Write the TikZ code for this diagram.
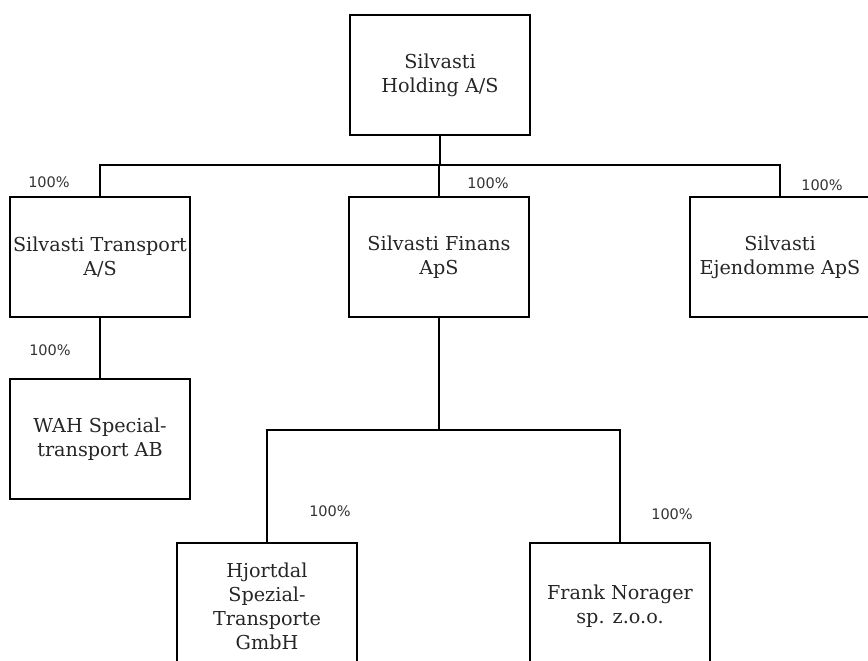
\documentclass[tikz,border=0pt]{standalone}
\usepackage{fontspec}
\setmainfont{DejaVu Serif}
\newfontfamily\pctfont{DejaVu Sans}
\begin{document}
\begin{tikzpicture}[x=1pt,y=-1pt,
  box/.style={draw=black,line width=1.4pt,rectangle,inner sep=0pt,align=center,
    minimum width=180pt,minimum height=120pt,
    font=\fontsize{19.2}{24}\selectfont,text=black!85},
  pct/.style={font=\pctfont\fontsize{14.5}{16}\selectfont,text=black!80,inner sep=0pt},
  conn/.style={line width=1.4pt,draw=black}]
\clip (0,0) rectangle (868,661);
\fill[white] (0,0) rectangle (868,661);
\node[box] (hold) at (440,75) {Silvasti\\Holding A/S};
\node[box] (trans) at (100,257) {Silvasti Transport\\A/S};
\node[box] (fin) at (439,257) {Silvasti Finans\\ApS};
\node[box] (ejd) at (780,257) {Silvasti\\Ejendomme ApS};
\node[box] (wah) at (100,439) {WAH Special-\\transport AB};
\node[box,minimum height=126pt] (hjo) at (267,606) {Hjortdal\\Spezial-\\Transporte\\GmbH};
\node[box,minimum height=126pt] (fra) at (620,606) {Frank Norager\\sp. z.o.o.};
\coordinate (bus1) at (440,165);
\coordinate (bus2) at (439,430);
\draw[conn] (hold.south) -- (bus1);
\draw[conn] (trans.north) |- (bus1) -| (ejd.north);
\draw[conn] (fin.north) -- (fin.north |- bus1);
\draw[conn] (trans.south) -- (wah.north);
\draw[conn] (fin.south) -- (bus2);
\draw[conn] (hjo.north) |- (bus2) -| (fra.north);
\node[pct] (p1) at (49,182) {100\%};
\node[pct] (p2) at (488,183) {100\%};
\node[pct] (p3) at (822,185) {100\%};
\node[pct] (p4) at (50,350) {100\%};
\node[pct] (p5) at (330,511) {100\%};
\node[pct] (p6) at (672,514) {100\%};
\end{tikzpicture}
\end{document}
